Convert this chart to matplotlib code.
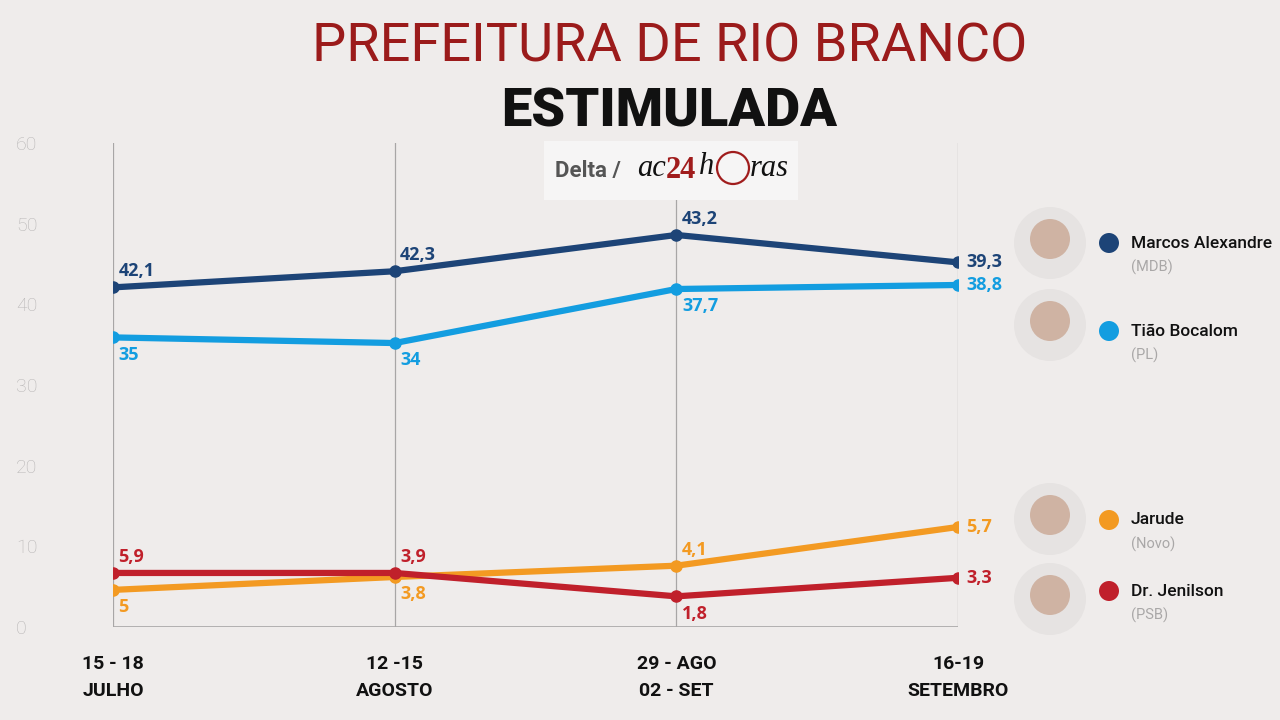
import matplotlib.pyplot as plt
from matplotlib.patches import Circle, Rectangle

# periods of the survey
periods = ["15 - 18\nJULHO", "12 -15\nAGOSTO", "29 - AGO\n02 - SET", "16-19\nSETEMBRO"]

# candidates and parties
names = ["Marcos Alexandre", "Tião Bocalom", "Jarude", "Dr. Jenilson"]
parties = ["(MDB)", "(PL)", "(Novo)", "(PSB)"]
colors = ["#1d4477", "#139de0", "#f39a22", "#c0202b"]

# line heights as drawn on the chart
marcos = [42.1, 44.1, 48.6, 45.2]
tiao = [35.9, 35.2, 41.9, 42.4]
jarude = [4.6, 6.2, 7.6, 12.4]
jenilson = [6.7, 6.7, 3.8, 6.1]

# numbers printed next to the points
marcos_lbl = ["42,1", "42,3", "43,2", "39,3"]
tiao_lbl = ["35", "34", "37,7", "38,8"]
jarude_lbl = ["5", "3,8", "4,1", "5,7"]
jenilson_lbl = ["5,9", "3,9", "1,8", "3,3"]

series = [marcos, tiao, jarude, jenilson]
labels = [marcos_lbl, tiao_lbl, jarude_lbl, jenilson_lbl]
# where the value label sits: a = above, b = below, r = right
places = [["a", "a", "a", "r"], ["b", "b", "b", "r"],
          ["b", "b", "a", "r"], ["a", "a", "b", "r"]]

plt.rcParams["font.family"] = ["Open Sans", "DejaVu Sans"]
cond = "Roboto"

bg = "#efeceb"
fig = plt.figure(figsize=(12.8, 7.2), dpi=100, facecolor=bg)
ax = fig.add_axes([113 / 1280, 93 / 720, 845 / 1280, 484 / 720])
ax.set_facecolor(bg)


def px(x, y):
    # pixel position (from top-left) -> inches for dpi_scale_trans
    return x / 100, (720 - y) / 100


x = list(range(len(periods)))
for vals, lbls, pl, c in zip(series, labels, places, colors):
    ax.plot(x, vals, color=c, lw=4.5, marker="o", ms=8, solid_capstyle="round", zorder=3)
    for i, (v, t, p) in enumerate(zip(vals, lbls, pl)):
        if p == "a":
            off, va = (4, 5), "bottom"
        elif p == "b":
            off, va = (4, -6), "top"
        else:
            off, va = (6, 0), "center"
        ax.annotate(t, (i, v), xytext=off, textcoords="offset points",
                    ha="left", va=va, color=c, fontsize=13, fontweight="bold", zorder=4)

ax.set_xlim(0, 3)
ax.set_ylim(0, 60)
for i in x:
    ax.axvline(i, color="#a8a6a6", lw=0.9, zorder=1)
ax.axhline(0, color="#a8a6a6", lw=1.2, zorder=1)
for s in ax.spines.values():
    s.set_visible(False)

ax.set_yticks(range(0, 61, 10))
ax.tick_params(axis="y", length=0, pad=70, labelsize=14, labelcolor="#b8b6b6")
for lab in ax.get_yticklabels():
    lab.set_fontfamily(cond)
    lab.set_fontweight("light")
    lab.set_horizontalalignment("left")
ax.set_xticks(x)
ax.set_xticklabels(periods, fontsize=14, fontweight="bold", family=cond,
                   linespacing=1.65, color="#111111")
ax.tick_params(axis="x", length=0, pad=20)

# titles
fig.text(0.523, 0.935, "PREFEITURA DE RIO BRANCO", ha="center", va="center",
         fontsize=39, color="#9b1b1b", family=cond)
fig.text(0.523, 0.845, "ESTIMULADA", ha="center", va="center",
         fontsize=39, color="#111111", family=cond, fontweight="black")

# source box
tr = fig.dpi_scale_trans
fig.patches.append(Rectangle(px(544, 200), 2.54, 0.59, transform=tr,
                             facecolor="#f6f5f5", edgecolor="none", zorder=2))
fig.text(*px(555, 171), "Delta /", ha="left", va="center", fontsize=16, transform=tr,
         fontweight="bold", color="#555555", family=cond, zorder=3)
fig.text(*px(637, 168), "ac", ha="left", va="center", fontsize=22, transform=tr,
         style="italic", color="#111111", family="Liberation Serif", zorder=3)
fig.text(*px(666, 170), "24", ha="left", va="center", fontsize=22, transform=tr,
         fontweight="bold", color="#a01c1c", family="Liberation Serif", zorder=3)
fig.text(*px(699, 166), "h", ha="left", va="center", fontsize=22, transform=tr,
         style="italic", color="#111111", family="Liberation Serif", zorder=3)
fig.patches.append(Circle(px(733, 168), 0.16, transform=tr, facecolor="#f6f5f5",
                          edgecolor="#a01c1c", lw=1.6, zorder=3))
fig.text(*px(750, 168), "ras", ha="left", va="center", fontsize=22, transform=tr,
         style="italic", color="#111111", family="Liberation Serif", zorder=3)

# legend with photo placeholders
legend_y = [243, 331, 520, 591]
photo_y = [243, 325, 519, 599]
for n, p, c, ly, py in zip(names, parties, colors, legend_y, photo_y):
    fig.patches.append(Circle(px(1050, py), 0.36, transform=tr,
                              facecolor="#e6e3e2", edgecolor="none"))
    fig.patches.append(Circle(px(1050, py - 4), 0.2, transform=tr,
                              facecolor="#cfb3a3", edgecolor="none"))
    fig.patches.append(Circle(px(1109, ly), 0.10, transform=tr,
                              facecolor=c, edgecolor="none"))
    fig.text(*px(1131, ly), n, ha="left", va="center", fontsize=12.5, transform=tr,
             color="#111111", family=cond, fontweight="medium")
    fig.text(*px(1131, ly + 24), p, ha="left", va="center", fontsize=10.5, transform=tr,
             color="#a9a7a7", family=cond)

fig.savefig("out.png", dpi=100, facecolor=bg)
